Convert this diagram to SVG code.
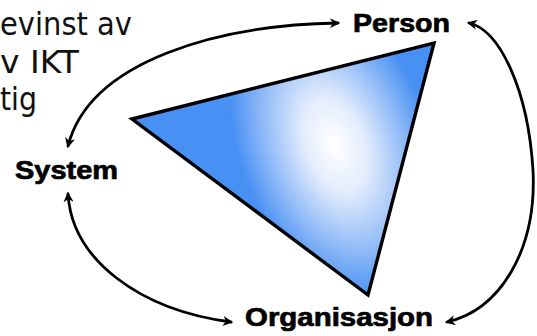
<svg xmlns="http://www.w3.org/2000/svg" width="537" height="336" viewBox="0 0 537 336">
<style>
.body{font-family:"DejaVu Sans",Verdana,sans-serif;font-size:32px;fill:#111}
.lbl{font-family:"Liberation Sans",Arial,sans-serif;font-weight:bold;font-size:25.5px;fill:#000;stroke:#000;stroke-width:0.7}
.conn{fill:none;stroke:#000;stroke-width:2.8;stroke-linecap:round}
</style>
<defs>
<marker id="ah" viewBox="0 0 10 10" refX="8" refY="5" markerWidth="3.6" markerHeight="3.6" orient="auto-start-reverse">
<path d="M0,0 L10,5 L0,10 L3,5 z" fill="#000"/>
</marker>
<radialGradient id="tg" gradientUnits="userSpaceOnUse" cx="335" cy="145" r="160" gradientTransform="translate(335 145) rotate(70) scale(1 0.6) translate(-335 -145)">
<stop offset="0" stop-color="#ffffff"/>
<stop offset="0.3" stop-color="#e4edfd"/>
<stop offset="0.65" stop-color="#98bff8"/>
<stop offset="1" stop-color="#4890f3"/>
</radialGradient>
</defs>
<rect width="537" height="336" fill="#fff"/>
<g id="text">
<text class="body" x="0" y="35" textLength="132" lengthAdjust="spacingAndGlyphs">evinst av</text>
<text class="body" x="0" y="73" textLength="79" lengthAdjust="spacingAndGlyphs">v IKT</text>
<text class="body" x="0" y="110" textLength="37" lengthAdjust="spacingAndGlyphs">tig</text>
</g>
<g id="triangle">
<polygon points="132,119 434,43 368,295" fill="url(#tg)" stroke="#000" stroke-width="3.4" stroke-linejoin="miter"/>
</g>
<g id="connectors">
<path class="conn" d="M338,23 C220,25 90,60 68,146" marker-start="url(#ah)" marker-end="url(#ah)"/>
<path class="conn" d="M68,194 C72,260 140,310 231,322" marker-start="url(#ah)" marker-end="url(#ah)"/>
<path class="conn" d="M469,23 C500,30 528,90 533,170 C537,250 500,310 447,322" marker-start="url(#ah)" marker-end="url(#ah)"/>
</g>
<g id="person"><text class="lbl" x="353" y="32" textLength="97" lengthAdjust="spacingAndGlyphs">Person</text></g>
<g id="system"><text class="lbl" x="15" y="179" textLength="103" lengthAdjust="spacingAndGlyphs">System</text></g>
<g id="organisasjon"><text class="lbl" x="245" y="326" textLength="188" lengthAdjust="spacingAndGlyphs">Organisasjon</text></g>
</svg>
